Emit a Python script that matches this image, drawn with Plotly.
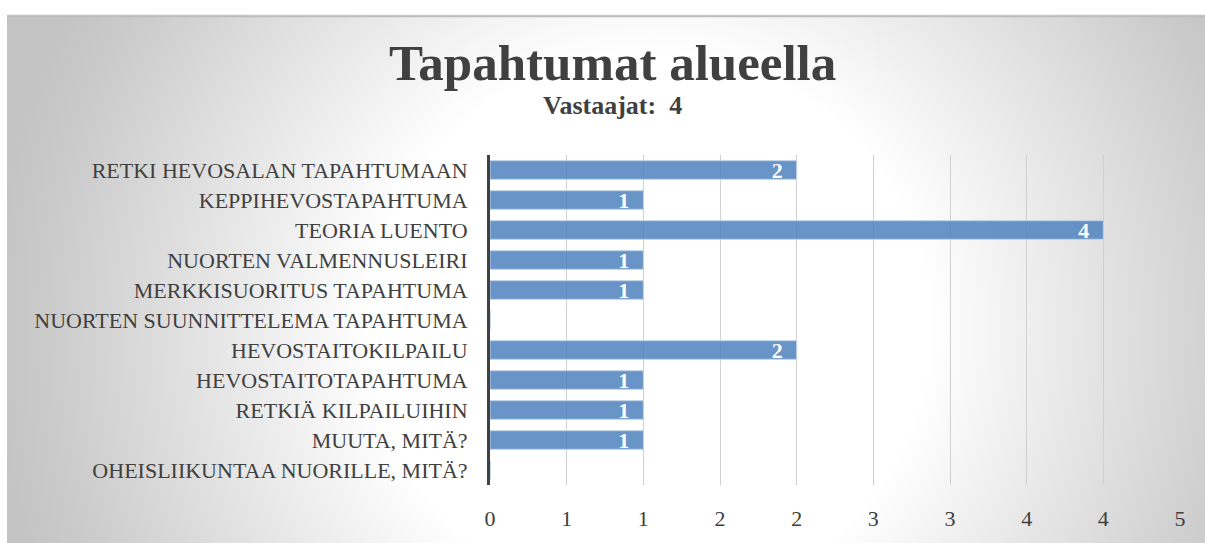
import base64
import plotly.graph_objects as go

categories = [
    "RETKI HEVOSALAN TAPAHTUMAAN",
    "KEPPIHEVOSTAPAHTUMA",
    "TEORIA LUENTO",
    "NUORTEN VALMENNUSLEIRI",
    "MERKKISUORITUS TAPAHTUMA",
    "NUORTEN SUUNNITTELEMA TAPAHTUMA",
    "HEVOSTAITOKILPAILU",
    "HEVOSTAITOTAPAHTUMA",
    "RETKIÄ KILPAILUIHIN",
    "MUUTA, MITÄ?",
    "OHEISLIIKUNTAA NUORILLE, MITÄ?",
]
values = [2, 1, 4, 1, 1, 0, 2, 1, 1, 1, 0]
x_tickvals = [0, 0.5, 1, 1.5, 2, 2.5, 3, 3.5, 4, 4.5]
x_ticktext = ["0", "1", "1", "2", "2", "3", "3", "4", "4", "5"]
title_text = "Tapahtumat alueella"
subtitle_text = "Vastaajat:\u00a0\u00a04"

FONT = "Liberation Serif"
TXT = "#404040"

W, H = 1205, 543
L, R, T, B = 490, 25, 155, 54
pw, ph = W - L - R, H - T - B

def px_x(p):
    return (p - L) / pw

def px_y(p):
    return (H - B - p) / ph

# background radial gradient (chart area) as inline SVG
bx0, by0, bx1, by1 = 7, 14, 1240, 580
bw, bh = bx1 - bx0, by1 - by0
svg = f'''<svg xmlns="http://www.w3.org/2000/svg" width="{bw}" height="{bh}" viewBox="0 0 {bw} {bh}" preserveAspectRatio="none">
<defs><radialGradient id="g" gradientUnits="userSpaceOnUse" cx="{650-bx0}" cy="{330-by0}" r="660">
<stop offset="0" stop-color="#ffffff"/><stop offset="0.42" stop-color="#ffffff"/>
<stop offset="0.92" stop-color="#cacaca"/><stop offset="1" stop-color="#c4c4c4"/></radialGradient></defs>
<rect x="0" y="0" width="{bw}" height="{bh}" fill="url(#g)"/>
<line x1="0" y1="0.5" x2="{bw}" y2="0.5" stroke="#bdbdbd" stroke-width="2"/>
</svg>'''
src = "data:image/svg+xml;base64," + base64.b64encode(svg.encode()).decode()

fig = go.Figure()
fig.add_trace(go.Bar(
    y=categories, x=values, orientation="h",
    marker=dict(color="rgba(79,129,189,0.85)", line=dict(color="rgba(190,210,232,1)", width=1)),
    width=0.62,
    text=[str(v) if v else "" for v in values],
    texttemplate="%{text}\u00a0\u00a0",
    textposition="inside", insidetextanchor="end", constraintext="none", textangle=0,
    textfont=dict(family=FONT, size=22, color="white", weight="bold"),
    hoverinfo="skip",
))

fig.update_layout(
    width=W, height=H,
    margin=dict(l=L, r=R, t=T, b=B),
    paper_bgcolor="#c6c6c6", plot_bgcolor="rgba(0,0,0,0)",
    showlegend=False,
    font=dict(family=FONT, color=TXT),
    images=[dict(source=src, xref="paper", yref="paper",
                 x=px_x(bx0), y=px_y(by0),
                 sizex=bw / pw, sizey=bh / ph, sizing="stretch",
                 xanchor="left", yanchor="top", layer="below")],
    shapes=[
        dict(type="rect", xref="paper", yref="paper", layer="below",
             x0=px_x(-5), x1=px_x(W + 5), y0=px_y(by0 - 1), y1=px_y(-5),
             fillcolor="white", line=dict(width=0)),
        dict(type="rect", xref="paper", yref="paper", layer="below",
             x0=px_x(-5), x1=px_x(bx0), y0=px_y(H + 5), y1=px_y(by0 - 1),
             fillcolor="white", line=dict(width=0)),
    ],
    annotations=[
        dict(text=f"<b>{title_text}</b>", xref="paper", yref="paper",
             x=px_x(612), y=px_y(62), xanchor="center", yanchor="middle",
             showarrow=False, font=dict(family=FONT, size=51, color=TXT)),
        dict(text=f"<b>{subtitle_text}</b>", xref="paper", yref="paper",
             x=px_x(612), y=px_y(105), xanchor="center", yanchor="middle",
             showarrow=False, font=dict(family=FONT, size=26, color=TXT)),
    ],
)
fig.update_xaxes(range=[0, 4.5], tickvals=x_tickvals, ticktext=x_ticktext,
                 showgrid=True, gridcolor="#d0d0d0", gridwidth=1, zeroline=False,
                 showline=False, ticks="", ticklabelstandoff=18,
                 tickfont=dict(family=FONT, size=22, color=TXT))
fig.update_yaxes(autorange="reversed", showline=True, linecolor="#404040", linewidth=3,
                 showgrid=False, ticks="", ticklabelstandoff=15,
                 tickfont=dict(family=FONT, size=22, color=TXT))

fig.write_html(
    "out.html",
    config={"displayModeBar": False},
    post_script="document.body.style.margin='0';document.body.style.overflow='hidden';"
                "document.documentElement.style.overflow='hidden';",
)
